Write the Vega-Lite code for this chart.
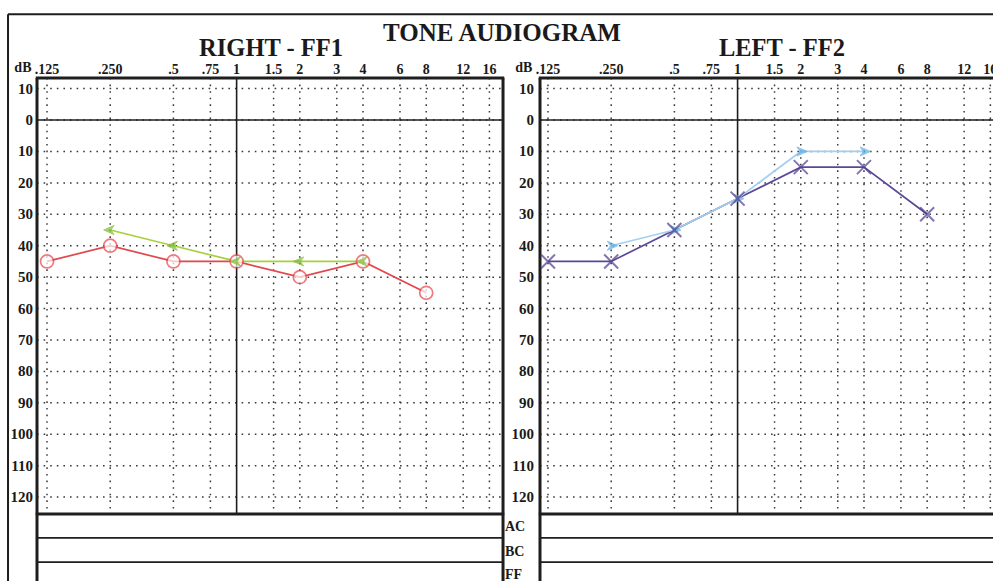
{
  "$schema": "https://vega.github.io/schema/vega-lite/v6.json",
  "width": 993,
  "height": 581,
  "padding": 0,
  "autosize": {"type": "none"},
  "background": "white",
  "config": {
    "view": {"stroke": null},
    "text": {"font": "Liberation Serif", "fontWeight": "bold", "color": "#1a1a1a"},
    "rule": {"color": "#1e1e1e", "strokeCap": "butt"}
  },
  "datasets": {
    "freqs": [
      {"freq": 125, "label": ".125"}, {"freq": 250, "label": ".250"}, {"freq": 500, "label": ".5"},
      {"freq": 750, "label": ".75"}, {"freq": 1000, "label": "1"}, {"freq": 1500, "label": "1.5"},
      {"freq": 2000, "label": "2"}, {"freq": 3000, "label": "3"}, {"freq": 4000, "label": "4"},
      {"freq": 6000, "label": "6"}, {"freq": 8000, "label": "8"}, {"freq": 12000, "label": "12"},
      {"freq": 16000, "label": "16"}
    ],
    "levels": [
      {"db": -10, "label": "10"}, {"db": 0, "label": "0"}, {"db": 10, "label": "10"}, {"db": 20, "label": "20"},
      {"db": 30, "label": "30"}, {"db": 40, "label": "40"}, {"db": 50, "label": "50"}, {"db": 60, "label": "60"},
      {"db": 70, "label": "70"}, {"db": 80, "label": "80"}, {"db": 90, "label": "90"}, {"db": 100, "label": "100"},
      {"db": 110, "label": "110"}, {"db": 120, "label": "120"}
    ],
    "right_ear": [
      {"freq": 125, "db": 45, "series": "AC"}, {"freq": 250, "db": 40, "series": "AC"},
      {"freq": 500, "db": 45, "series": "AC"}, {"freq": 1000, "db": 45, "series": "AC"},
      {"freq": 2000, "db": 50, "series": "AC"}, {"freq": 4000, "db": 45, "series": "AC"},
      {"freq": 8000, "db": 55, "series": "AC"},
      {"freq": 250, "db": 35, "series": "FF"}, {"freq": 500, "db": 40, "series": "FF"},
      {"freq": 1000, "db": 45, "series": "FF"}, {"freq": 2000, "db": 45, "series": "FF"},
      {"freq": 4000, "db": 45, "series": "FF"}
    ],
    "left_ear": [
      {"freq": 125, "db": 45, "series": "AC"}, {"freq": 250, "db": 45, "series": "AC"},
      {"freq": 500, "db": 35, "series": "AC"}, {"freq": 1000, "db": 25, "series": "AC"},
      {"freq": 2000, "db": 15, "series": "AC"}, {"freq": 4000, "db": 15, "series": "AC"},
      {"freq": 8000, "db": 30, "series": "AC"},
      {"freq": 250, "db": 40, "series": "FF"}, {"freq": 500, "db": 35, "series": "FF"},
      {"freq": 1000, "db": 25, "series": "FF"}, {"freq": 2000, "db": 10, "series": "FF"},
      {"freq": 4000, "db": 10, "series": "FF"}
    ],
    "one": [{}]
  },
  "resolve": {"scale": {"x": "independent", "color": "independent"}},
  "layer": [
    {
      "layer": [
        {"data": {"name": "levels"}, "mark": {"type": "rule", "strokeDash": [1.6, 5], "strokeWidth": 1.5, "color": "#3a3a3a"},
         "encoding": {"y": {"field": "db", "type": "quantitative", "scale": {"domain": [-38.2, 146.7], "reverse": true, "nice": false, "zero": false}, "axis": null},
                      "x": {"datum": 112.0, "type": "quantitative", "scale": {"type": "log", "domain": [74.64, 4006000], "nice": false, "zero": false}, "axis": null},
                      "x2": {"datum": 18575}}},
        {"data": {"name": "freqs"}, "transform": [{"filter": "datum.freq != 1000"}],
         "mark": {"type": "rule", "strokeDash": [1.6, 5], "strokeWidth": 1.5, "color": "#3a3a3a"},
         "encoding": {"x": {"field": "freq", "type": "quantitative", "scale": {"type": "log", "domain": [74.64, 4006000], "nice": false, "zero": false}, "axis": null},
                      "y": {"datum": -13.4, "type": "quantitative", "scale": {"domain": [-38.2, 146.7], "reverse": true, "nice": false, "zero": false}, "axis": null},
                      "y2": {"datum": 125.4}}},
        {"data": {"name": "one"}, "mark": {"type": "rule", "strokeWidth": 1.6},
         "encoding": {"y": {"datum": 0, "type": "quantitative"}, "x": {"datum": 112.0, "type": "quantitative"}, "x2": {"datum": 18575}}},
        {"data": {"name": "one"}, "mark": {"type": "rule", "strokeWidth": 1.6},
         "encoding": {"x": {"datum": 1000, "type": "quantitative"}, "y": {"datum": -13.4, "type": "quantitative"}, "y2": {"datum": 125.4}}},
        {"data": {"name": "one"}, "mark": {"type": "rule", "strokeWidth": 3},
         "encoding": {"y": {"datum": -13.4, "type": "quantitative"}, "x": {"datum": 110.5, "type": "quantitative"}, "x2": {"datum": 18830}}},
        {"data": {"name": "one"}, "mark": {"type": "rule", "strokeWidth": 3},
         "encoding": {"y": {"datum": 125.4, "type": "quantitative"}, "x": {"datum": 110.5, "type": "quantitative"}, "x2": {"datum": 18830}}},
        {"data": {"name": "one"}, "mark": {"type": "rule", "strokeWidth": 3},
         "encoding": {"x": {"datum": 112.0, "type": "quantitative"}, "y": {"datum": -13.4, "type": "quantitative"}, "y2": {"datum": 146.7}}},
        {"data": {"name": "one"}, "mark": {"type": "rule", "strokeWidth": 3},
         "encoding": {"x": {"datum": 18575, "type": "quantitative"}, "y": {"datum": -13.4, "type": "quantitative"}, "y2": {"datum": 146.7}}},
        {"data": {"name": "one"}, "mark": {"type": "rule", "strokeWidth": 1.8},
         "encoding": {"y": {"datum": 133.0, "type": "quantitative"}, "x": {"datum": 112.0, "type": "quantitative"}, "x2": {"datum": 18575}}},
        {"data": {"name": "one"}, "mark": {"type": "rule", "strokeWidth": 1.8},
         "encoding": {"y": {"datum": 140.7, "type": "quantitative"}, "x": {"datum": 112.0, "type": "quantitative"}, "x2": {"datum": 18575}}},
        {"data": {"name": "one"}, "mark": {"type": "rule", "strokeWidth": 2},
         "encoding": {"x": {"datum": 81.5, "type": "quantitative"}, "y": {"datum": -33.7, "type": "quantitative"}, "y2": {"datum": 146.7}}},
        {"data": {"name": "one"}, "mark": {"type": "rule", "strokeWidth": 2},
         "encoding": {"y": {"datum": -33.7, "type": "quantitative"}, "x": {"datum": 81.5, "type": "quantitative"}, "x2": {"datum": 4006000}}},
        {"data": {"name": "freqs"}, "mark": {"type": "text", "fontSize": 14, "baseline": "alphabetic", "align": "center"},
         "encoding": {"x": {"field": "freq", "type": "quantitative"}, "y": {"datum": -14.6, "type": "quantitative"}, "text": {"field": "label"}}},
        {"data": {"name": "levels"}, "mark": {"type": "text", "fontSize": 15, "baseline": "middle", "align": "right"},
         "encoding": {"y": {"field": "db", "type": "quantitative"}, "x": {"datum": 107.2, "type": "quantitative"}, "text": {"field": "label"}}},
        {"data": {"name": "one"}, "mark": {"type": "text", "fontSize": 14, "baseline": "alphabetic", "align": "right", "text": "dB"},
         "encoding": {"x": {"datum": 105.4, "type": "quantitative"}, "y": {"datum": -15.3, "type": "quantitative"}}},
        {"data": {"name": "one"}, "mark": {"type": "text", "fontSize": 24.5, "baseline": "alphabetic", "align": "center", "text": "RIGHT - FF1"},
         "encoding": {"x": {"datum": 1458.6, "type": "quantitative"}, "y": {"datum": -20.5, "type": "quantitative"}}},
        {"data": {"name": "one"}, "mark": {"type": "text", "fontSize": 25, "baseline": "alphabetic", "align": "center", "text": "TONE AUDIOGRAM"},
         "encoding": {"x": {"datum": 18364, "type": "quantitative"}, "y": {"datum": -25.1, "type": "quantitative"}}},
        {"data": {"name": "right_ear"}, "mark": {"type": "line", "strokeWidth": 1.7},
         "encoding": {"x": {"field": "freq", "type": "quantitative"}, "y": {"field": "db", "type": "quantitative"},
                      "color": {"field": "series", "type": "nominal", "scale": {"domain": ["AC", "FF"], "range": ["#e2474d", "#a6d13c"]}, "legend": null}}},
        {"data": {"name": "right_ear"}, "transform": [{"filter": "datum.series == 'AC'"}],
         "mark": {"type": "point", "shape": "circle", "size": 169, "filled": true, "fill": "white", "stroke": "#e8434b", "strokeWidth": 1.7},
         "encoding": {"x": {"field": "freq", "type": "quantitative"}, "y": {"field": "db", "type": "quantitative"}}},
        {"data": {"name": "right_ear"}, "transform": [{"filter": "datum.series == 'FF'"}],
         "mark": {"type": "point", "shape": "M-1,0L0.6,-0.7L0.1,0L0.6,0.7Z", "size": 169, "filled": true, "fill": "#7fb832", "stroke": "#7fb832", "strokeWidth": 1},
         "encoding": {"x": {"field": "freq", "type": "quantitative"}, "y": {"field": "db", "type": "quantitative"}}}
      ]
    },
    {
      "layer": [
        {"data": {"name": "levels"}, "mark": {"type": "rule", "strokeDash": [1.6, 5], "strokeWidth": 1.5, "color": "#3a3a3a"},
         "encoding": {"y": {"field": "db", "type": "quantitative"},
                      "x": {"datum": 114.5, "type": "quantitative", "scale": {"type": "log", "domain": [0.3066, 16470], "nice": false, "zero": false}, "axis": null},
                      "x2": {"datum": 18575}}},
        {"data": {"name": "freqs"}, "transform": [{"filter": "datum.freq != 1000"}],
         "mark": {"type": "rule", "strokeDash": [1.6, 5], "strokeWidth": 1.5, "color": "#3a3a3a"},
         "encoding": {"x": {"field": "freq", "type": "quantitative", "scale": {"type": "log", "domain": [0.3066, 16470], "nice": false, "zero": false}, "axis": null},
                      "y": {"datum": -13.4, "type": "quantitative"}, "y2": {"datum": 125.4}}},
        {"data": {"name": "one"}, "mark": {"type": "rule", "strokeWidth": 1.6},
         "encoding": {"y": {"datum": 0, "type": "quantitative"}, "x": {"datum": 114.5, "type": "quantitative"}, "x2": {"datum": 18575}}},
        {"data": {"name": "one"}, "mark": {"type": "rule", "strokeWidth": 1.6},
         "encoding": {"x": {"datum": 1000, "type": "quantitative"}, "y": {"datum": -13.4, "type": "quantitative"}, "y2": {"datum": 125.4}}},
        {"data": {"name": "one"}, "mark": {"type": "rule", "strokeWidth": 3},
         "encoding": {"y": {"datum": -13.4, "type": "quantitative"}, "x": {"datum": 113.0, "type": "quantitative"}, "x2": {"datum": 18830}}},
        {"data": {"name": "one"}, "mark": {"type": "rule", "strokeWidth": 3},
         "encoding": {"y": {"datum": 125.4, "type": "quantitative"}, "x": {"datum": 113.0, "type": "quantitative"}, "x2": {"datum": 18830}}},
        {"data": {"name": "one"}, "mark": {"type": "rule", "strokeWidth": 3},
         "encoding": {"x": {"datum": 114.5, "type": "quantitative"}, "y": {"datum": -13.4, "type": "quantitative"}, "y2": {"datum": 146.7}}},
        {"data": {"name": "one"}, "mark": {"type": "rule", "strokeWidth": 1.8},
         "encoding": {"y": {"datum": 133.0, "type": "quantitative"}, "x": {"datum": 114.5, "type": "quantitative"}, "x2": {"datum": 18575}}},
        {"data": {"name": "one"}, "mark": {"type": "rule", "strokeWidth": 1.8},
         "encoding": {"y": {"datum": 140.7, "type": "quantitative"}, "x": {"datum": 114.5, "type": "quantitative"}, "x2": {"datum": 18575}}},
        {"data": {"name": "freqs"}, "mark": {"type": "text", "fontSize": 14, "baseline": "alphabetic", "align": "center"},
         "encoding": {"x": {"field": "freq", "type": "quantitative"}, "y": {"datum": -14.6, "type": "quantitative"}, "text": {"field": "label"}}},
        {"data": {"name": "levels"}, "mark": {"type": "text", "fontSize": 15, "baseline": "middle", "align": "right"},
         "encoding": {"y": {"field": "db", "type": "quantitative"}, "x": {"datum": 107.2, "type": "quantitative"}, "text": {"field": "label"}}},
        {"data": {"name": "one"}, "mark": {"type": "text", "fontSize": 14, "baseline": "alphabetic", "align": "right", "text": "dB"},
         "encoding": {"x": {"datum": 105.4, "type": "quantitative"}, "y": {"datum": -15.3, "type": "quantitative"}}},
        {"data": {"name": "one"}, "mark": {"type": "text", "fontSize": 24.5, "baseline": "alphabetic", "align": "center", "text": "LEFT - FF2"},
         "encoding": {"x": {"datum": 1627, "type": "quantitative"}, "y": {"datum": -20.5, "type": "quantitative"}}},
        {"data": {"name": "one"}, "mark": {"type": "text", "fontSize": 14, "baseline": "middle", "align": "left", "text": "AC"},
         "encoding": {"x": {"datum": 78.0, "type": "quantitative"}, "y": {"datum": 129.5, "type": "quantitative"}}},
        {"data": {"name": "one"}, "mark": {"type": "text", "fontSize": 14, "baseline": "middle", "align": "left", "text": "BC"},
         "encoding": {"x": {"datum": 78.0, "type": "quantitative"}, "y": {"datum": 137.4, "type": "quantitative"}}},
        {"data": {"name": "one"}, "mark": {"type": "text", "fontSize": 14, "baseline": "middle", "align": "left", "text": "FF"},
         "encoding": {"x": {"datum": 78.0, "type": "quantitative"}, "y": {"datum": 144.8, "type": "quantitative"}}},
        {"data": {"name": "left_ear"}, "mark": {"type": "line", "strokeWidth": 1.7},
         "encoding": {"x": {"field": "freq", "type": "quantitative"}, "y": {"field": "db", "type": "quantitative"},
                      "color": {"field": "series", "type": "nominal", "scale": {"domain": ["AC", "FF"], "range": ["#5a4896", "#a4d0f0"]}, "legend": null}}},
        {"data": {"name": "left_ear"}, "transform": [{"filter": "datum.series == 'FF'"}],
         "mark": {"type": "point", "shape": "M1,0L-0.6,-0.7L-0.1,0L-0.6,0.7Z", "size": 169, "filled": true, "fill": "#5aaee6", "stroke": "#5aaee6", "strokeWidth": 1},
         "encoding": {"x": {"field": "freq", "type": "quantitative"}, "y": {"field": "db", "type": "quantitative"}}},
        {"data": {"name": "left_ear"}, "transform": [{"filter": "datum.series == 'AC'"}],
         "mark": {"type": "point", "shape": "M-1,-1L1,1M-1,1L1,-1", "size": 196, "filled": false, "stroke": "#4f3d8f", "strokeWidth": 2},
         "encoding": {"x": {"field": "freq", "type": "quantitative"}, "y": {"field": "db", "type": "quantitative"}}}
      ]
    }
  ]
}
